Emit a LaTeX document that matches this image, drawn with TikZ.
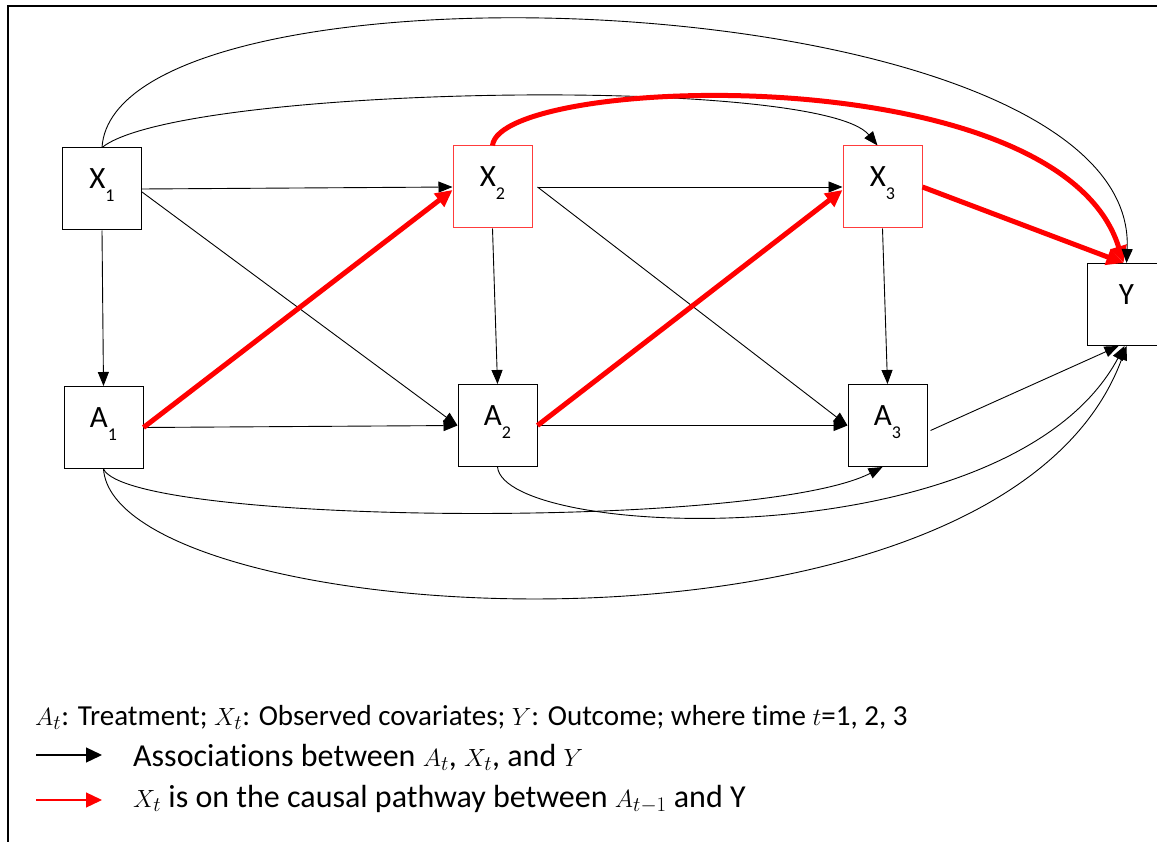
\documentclass[tikz,border=0pt]{standalone}
\usepackage{fontspec}
\setmainfont{Carlito}[Ligatures=NoCommon]
\usetikzlibrary{arrows.meta}
\definecolor{boxred}{RGB}{255,60,60}
\newcommand\boxlab[2]{\smash{#1\raisebox{-13pt}{\fontsize{18}{18}\selectfont #2}}\hspace{10pt}}
\begin{document}
\begin{tikzpicture}[x=1pt,y=-1pt,
  box/.style={draw, line width=1pt, minimum width=79pt, minimum height=82pt, inner sep=0pt,
    font=\fontsize{31}{33}\selectfont},
  redbox/.style={box, draw=boxred},
  ln/.style={line width=0.9pt, -{Triangle[length=14pt,width=11pt]}},
  rl/.style={draw=red, line width=5pt, -{Triangle[length=17pt,width=16pt]}},
  legtext/.style={anchor=base west, inner sep=0pt, font=\fontsize{32}{34}\selectfont},
  legtextA/.style={legtext, font=\fontsize{29}{31}\selectfont}]
\useasboundingbox (0,0) rectangle (1157,842);
\fill[white] (0,0) rectangle (1157,842);
\draw[line width=2pt] (8,850) -- (8,6) -- (1165,6);

\node[box] (X1) at (102,189) {\boxlab{X}{1}};
\node[box] (A1) at (103.5,427.5) {\boxlab{A}{1}};
\node[redbox] (X2) at (492.5,187) {\boxlab{X}{2}};
\node[box] (A2) at (497.5,425.5) {\boxlab{A}{2}};
\node[redbox] (X3) at (882.5,187) {\boxlab{X}{3}};
\node[box] (A3) at (887.5,425.5) {\boxlab{A}{3}};
\node[box] (Y) at (1126.5,304.5) {\smash{Y}};

% black associations
\draw[ln] (X1.south) -- (A1.north);
\draw[ln] (X1.east) -- (X2.west);
\draw[ln] ([yshift=-3pt]X1.east) -- (A2.west);
\draw[ln] (A1.east) -- (A2.west);
\draw[ln] (X2.south) -- (A2.north);
\draw[ln] ([xshift=5pt]X2.east) -- (X3.west);
\draw[ln] ([xshift=5pt]X2.east) -- (A3.west);
\draw[ln] (A2.east) -- (A3.west);
\draw[ln] (X3.south) -- (A3.north);
\draw[ln] ([xshift=3pt,yshift=-5pt]A3.east) -- ([xshift=-8pt]Y.south);
\draw[ln] (X1.north) .. controls (180,85) and (820,75) .. ([xshift=-5pt]X3.north);
\draw[ln] (A1.south) .. controls (130,525) and (760,530) .. ([xshift=-5pt]A3.south);
\draw[ln] (A2.south) .. controls (505,540) and (1010,560) .. ([xshift=-2pt]Y.south);
\draw[ln] (A1.south) .. controls (115,630) and (1000,690) .. (Y.south);

% red causal pathway
\draw[rl] (A1.east) -- ([yshift=-3pt]X2.west);
\draw[rl] (A2.east) -- ([yshift=-3pt]X3.west);
\draw[rl] (X3.east) -- ([xshift=-3pt]Y.north);
\draw[rl] (X2.north) .. controls (500,75) and (1060,55) .. ([xshift=-3pt]Y.north);

\draw[ln] (X1.north) .. controls (115,-55) and (1140,-20) .. (Y.north);

% legend
\node[legtextA] (L1) at (35,725) {$A_t$: Treatment; $X_t$: Observed covariates; $Y$: Outcome; where time $t$=1, 2, 3};
\coordinate (K1) at (36,755);
\coordinate (K2) at (102,755);
\draw[line width=1.3pt, -{Triangle[length=16pt,width=15pt]}] (K1) -- (K2);
\node[legtext] (L2) at (133,766) {Associations between $A_t$, $X_t$, and $Y$};
\coordinate (R1) at (36,800);
\coordinate (R2) at (102,800);
\draw[red, line width=1.3pt, -{Triangle[length=16pt,width=15pt]}] (R1) -- (R2);
\node[legtext] (L3) at (133,807) {$X_t$ is on the causal pathway between $A_{t-1}$ and Y};
\end{tikzpicture}
\end{document}
